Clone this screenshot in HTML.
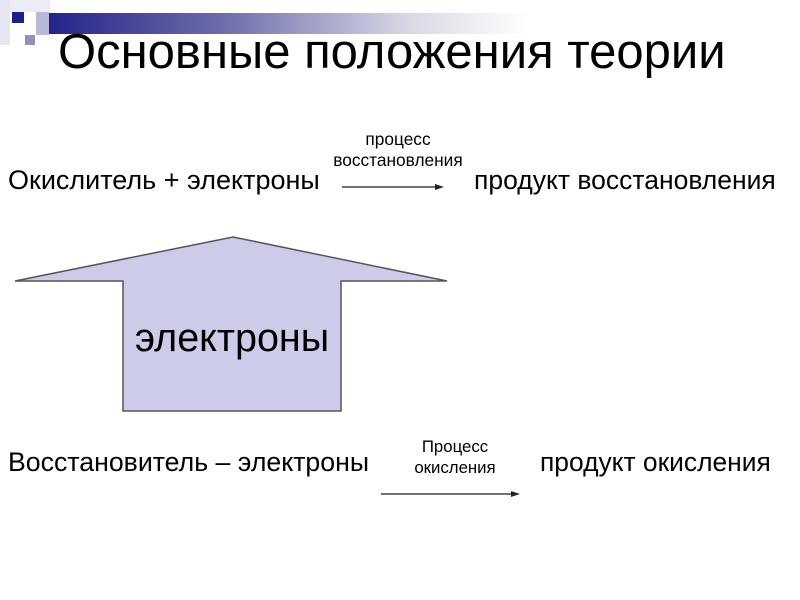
<!DOCTYPE html>
<html><head><meta charset="utf-8"><style>
body{margin:0;width:800px;height:600px;background:#fff;position:relative;overflow:hidden;font-family:"Liberation Sans",sans-serif;color:#000}
.a{position:absolute;white-space:nowrap}
</style></head><body>
<div class="a" style="left:0;top:0;width:10px;height:45px;background:#e6e6f3"></div>
<div class="a" style="left:10px;top:0;width:40px;height:12px;background:#ececf6"></div>
<div class="a" style="left:12px;top:12px;width:12px;height:11px;background:#1e1e8a"></div>
<div class="a" style="left:36px;top:12px;width:13px;height:23px;background:#b8b8d8"></div>
<div class="a" style="left:25px;top:35px;width:10px;height:10px;background:#9090b8"></div>
<div class="a" style="left:49px;top:13px;width:480px;height:21px;background:linear-gradient(to right,#24248a,#6a6aa8 35%,#d8d8e6 75%,#fff)"></div>
<div class="a" style="left:58px;top:24px;font-size:49px">Основные положения теории</div>

<div class="a" style="left:398px;top:129px;font-size:17.3px;text-align:center;line-height:21px;transform:translateX(-50%)">процесс<br>восстановления</div>
<div class="a" style="left:8px;top:165px;font-size:27px">Окислитель + электроны</div>
<div class="a" style="left:474px;top:165px;font-size:26.5px">продукт восстановления</div>

<div class="a" style="left:455px;top:436px;font-size:16.8px;text-align:center;line-height:21px;transform:translateX(-50%)">Процесс<br>окисления</div>
<div class="a" style="left:8px;top:447px;font-size:26.7px">Восстановитель – электроны</div>
<div class="a" style="left:540px;top:447px;font-size:26.4px">продукт окисления</div>

<svg class="a" style="left:0;top:0" width="800" height="600">
<polygon points="233,237 447,281 341,281 341,411 123,411 123,281 15,281" fill="#ccccea" stroke="#555" stroke-width="1.5"/>
<text x="232" y="351" font-size="39.5" text-anchor="middle" font-family="Liberation Sans,sans-serif">электроны</text>
<line x1="342" y1="187" x2="436" y2="187" stroke="#444" stroke-width="1.5"/>
<polygon points="444,187 435,184 435,190" fill="#222"/>
<line x1="381" y1="494" x2="512" y2="494" stroke="#444" stroke-width="1.5"/>
<polygon points="520,494 511,491 511,497" fill="#222"/>
</svg>
</body></html>
